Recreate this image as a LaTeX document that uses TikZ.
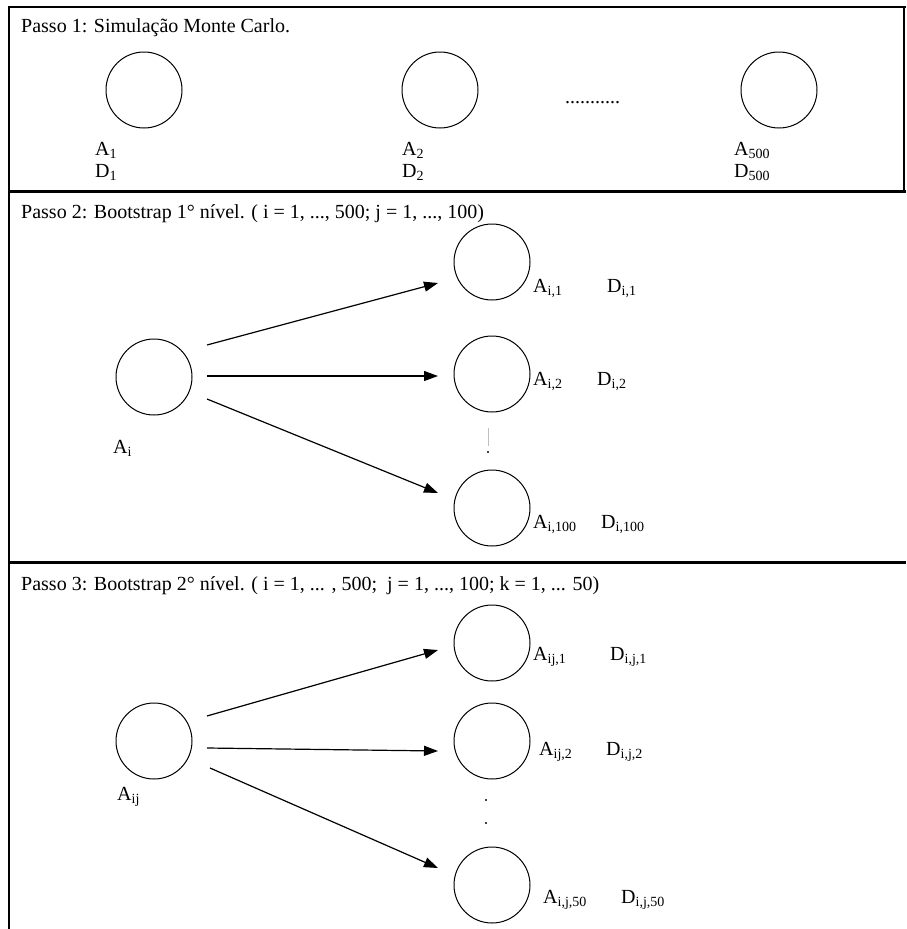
\documentclass[tikz,border=0pt]{standalone}
\usepackage{fontspec}
\setmainfont{Liberation Serif}
\usetikzlibrary{arrows.meta}
\tikzset{
  ring/.style={draw, circle, line width=1pt, minimum size=76pt, inner sep=0pt},
  lbl/.style={anchor=base west, inner sep=0pt, font=\fontsize{20}{24}\selectfont},
  ttl/.style={anchor=base west, inner sep=0pt, font=\fontsize{20}{24}\selectfont},
  link/.style={line width=1.2pt, -{Triangle[length=14pt,width=10pt]}},
  framepart/.style={line width=1.2pt},
  divider/.style={line width=3pt},
  dotmark/.style={fill=black},
}
\begin{document}
\begin{tikzpicture}[x=1pt,y=-1pt]
\useasboundingbox (0,0) rectangle (906,929);

% outer frame and panel dividers
\draw[framepart] (9,929) -- (9,7) -- (906,7);
\draw[framepart] (904,7) -- (904,191);
\draw[divider] (9,191) -- (906,191);
\draw[divider] (9,562) -- (906,562);

% ---------- step 1 ----------
\node[ttl] (t1) at (21,32) {Passo 1: Simulação Monte Carlo.};
\node[ring] (p1a) at (144,90) {};
\node[ring] (p1b) at (440,90) {};
\node[ring] (p1c) at (779,90) {};
\node[lbl] (la1) at (95,155) {A\textsubscript{1}};
\node[lbl] (ld1) at (95,177) {D\textsubscript{1}};
\node[lbl] (la2) at (402,155) {A\textsubscript{2}};
\node[lbl] (ld2) at (402,177) {D\textsubscript{2}};
\node[lbl] (la3) at (734,155) {A\textsubscript{500}};
\node[lbl] (ld3) at (734,177) {D\textsubscript{500}};
\node[lbl] (dots1) at (565,103) {...........};

% ---------- step 2 ----------
\node[ttl] (t2) at (21,218) {Passo 2: Bootstrap 1° nível. ( i = 1, ..., 500; j = 1, ..., 100)};
\node[ring] (s2) at (154,377) {};
\node[ring] (q1) at (492,262) {};
\node[ring] (q2) at (492,374) {};
\node[ring] (q3) at (492,508) {};
\node[lbl] (ls2) at (113,453) {A\textsubscript{i}};
\node[lbl] (lq1a) at (533,292) {A\textsubscript{i,1}};
\node[lbl] (lq1d) at (607,292) {D\textsubscript{i,1}};
\node[lbl] (lq2a) at (533,385) {A\textsubscript{i,2}};
\node[lbl] (lq2d) at (597,385) {D\textsubscript{i,2}};
\node[lbl] (lq3a) at (533,528) {A\textsubscript{i,100}};
\node[lbl] (lq3d) at (601,528) {D\textsubscript{i,100}};
\coordinate (a2s1) at (207,345); \coordinate (a2e1) at (438,283);
\coordinate (a2s2) at (207,376); \coordinate (a2e2) at (438,376);
\coordinate (a2s3) at (207,399); \coordinate (a2e3) at (438,493);
\draw[link] (a2s1) -- (a2e1);
\draw[link] (a2s2) -- (a2e2);
\draw[link] (a2s3) -- (a2e3);
\draw[gray!50, line width=0.6pt] (488,428) -- (488,446);
\fill[dotmark] (488,452) circle (1.1pt);

% ---------- step 3 ----------
\node[ttl] (t3) at (21,590) {Passo 3: Bootstrap 2° nível. ( i = 1, ... , 500;\ \ j = 1, ..., 100; k = 1, ... 50)};
\node[ring] (s3) at (154,741) {};
\node[ring] (r1) at (492,643) {};
\node[ring] (r2) at (492,741) {};
\node[ring] (r3) at (492,885) {};
\node[lbl] (ls3) at (117,800) {A\textsubscript{ij}};
\node[lbl] (lr1a) at (533,660) {A\textsubscript{ij,1}};
\node[lbl] (lr1d) at (610,660) {D\textsubscript{i,j,1}};
\node[lbl] (lr2a) at (539,755) {A\textsubscript{ij,2}};
\node[lbl] (lr2d) at (606,755) {D\textsubscript{i,j,2}};
\node[lbl] (lr3a) at (543,903) {A\textsubscript{i,j,50}};
\node[lbl] (lr3d) at (621,903) {D\textsubscript{i,j,50}};
\coordinate (a3s1) at (207,716); \coordinate (a3e1) at (438,650);
\coordinate (a3s2) at (207,748); \coordinate (a3e2) at (438,751);
\coordinate (a3s3) at (210,768); \coordinate (a3e3) at (438,868);
\draw[link] (a3s1) -- (a3e1);
\draw[link] (a3s2) -- (a3e2);
\draw[link] (a3s3) -- (a3e3);
\fill[dotmark] (486,800) circle (1.1pt);
\fill[dotmark] (486,823) circle (1.1pt);
\end{tikzpicture}
\end{document}
